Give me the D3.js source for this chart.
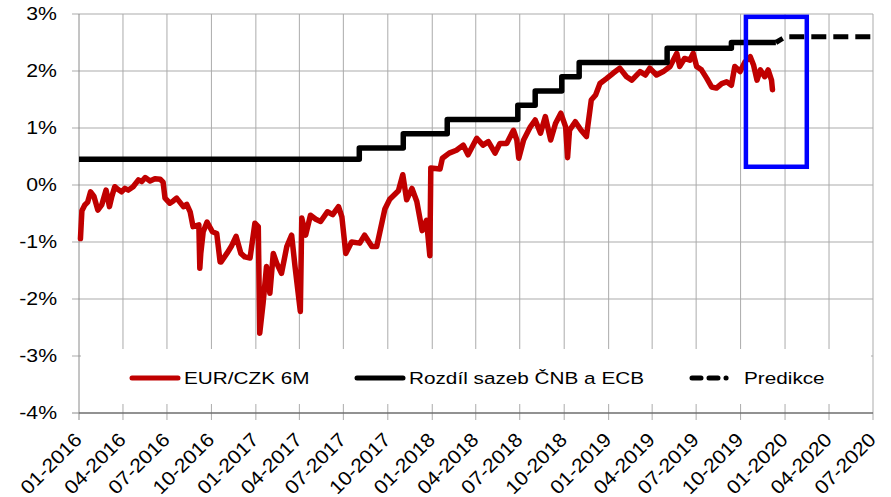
<!DOCTYPE html>
<html>
<head>
<meta charset="utf-8">
<script src="https://cdn.jsdelivr.net/npm/d3@7"></script>
<style>
    body { margin: 0; background: #fff; }
    text { font-family: "Liberation Sans", Arial, sans-serif; fill: #000; }
</style>
</head>
<body>
<div id="vis"></div>
<script>
const Y_TICKS = [-4, -3, -2, -1, 0, 1, 2, 3]

const X_TICKS = [
    '2016-01-01', '2016-04-01', '2016-07-01', '2016-10-01',
    '2017-01-01', '2017-04-01', '2017-07-01', '2017-10-01',
    '2018-01-01', '2018-04-01', '2018-07-01', '2018-10-01',
    '2019-01-01', '2019-04-01', '2019-07-01', '2019-10-01',
    '2020-01-01', '2020-04-01', '2020-07-01'
]

// EUR/CZK 6M (red)
const EURCZK_6M = [
    ['2016-01-04', -0.94], ['2016-01-07', -0.45], ['2016-01-13', -0.35], ['2016-01-19', -0.30],
    ['2016-01-25', -0.12], ['2016-02-01', -0.20], ['2016-02-09', -0.44], ['2016-02-17', -0.35],
    ['2016-02-26', -0.09], ['2016-03-04', -0.38], ['2016-03-09', -0.20], ['2016-03-15', -0.03],
    ['2016-03-22', -0.08], ['2016-03-29', -0.12], ['2016-04-05', -0.06], ['2016-04-12', -0.09],
    ['2016-04-22', -0.03], ['2016-05-03', 0.09], ['2016-05-10', 0.06], ['2016-05-17', 0.13],
    ['2016-05-27', 0.07], ['2016-06-06', 0.11], ['2016-06-17', 0.10], ['2016-06-23', 0.05],
    ['2016-06-27', -0.23], ['2016-07-07', -0.32], ['2016-07-14', -0.28], ['2016-07-21', -0.23],
    ['2016-08-04', -0.38], ['2016-08-11', -0.34], ['2016-08-18', -0.47], ['2016-08-24', -0.73],
    ['2016-09-05', -0.70], ['2016-09-07', -1.46], ['2016-09-09', -1.20], ['2016-09-14', -0.82],
    ['2016-09-22', -0.65], ['2016-10-03', -0.82], ['2016-10-12', -0.85], ['2016-10-19', -1.35],
    ['2016-10-21', -1.35], ['2016-11-02', -1.20], ['2016-11-11', -1.08], ['2016-11-21', -0.90],
    ['2016-12-01', -1.20], ['2016-12-09', -1.26], ['2016-12-20', -1.28], ['2016-12-30', -0.67],
    ['2017-01-06', -0.73], ['2017-01-09', -2.60], ['2017-01-16', -2.07], ['2017-01-23', -1.43],
    ['2017-01-30', -1.90], ['2017-02-06', -1.20], ['2017-02-13', -1.37], ['2017-02-23', -1.55],
    ['2017-03-06', -1.08], ['2017-03-16', -0.88], ['2017-03-23', -1.43], ['2017-04-03', -2.22],
    ['2017-04-06', -0.58], ['2017-04-14', -0.88], ['2017-04-24', -0.53], ['2017-05-05', -0.60],
    ['2017-05-15', -0.64], ['2017-05-29', -0.47], ['2017-06-09', -0.52], ['2017-06-21', -0.38],
    ['2017-06-28', -0.56], ['2017-07-06', -1.20], ['2017-07-18', -1.00], ['2017-08-04', -1.02],
    ['2017-08-14', -0.88], ['2017-08-29', -1.08], ['2017-09-08', -1.08], ['2017-09-25', -0.42],
    ['2017-10-05', -0.25], ['2017-10-23', -0.10], ['2017-11-01', 0.18], ['2017-11-09', -0.26],
    ['2017-11-20', -0.06], ['2017-11-30', -0.29], ['2017-12-11', -0.80], ['2017-12-20', -0.62],
    ['2017-12-27', -1.24], ['2017-12-29', 0.30], ['2018-01-17', 0.28], ['2018-01-22', 0.47],
    ['2018-02-05', 0.56], ['2018-02-20', 0.61], ['2018-03-06', 0.70], ['2018-03-16', 0.53],
    ['2018-04-03', 0.82], ['2018-04-16', 0.70], ['2018-04-27', 0.76], ['2018-05-11', 0.56],
    ['2018-05-21', 0.73], ['2018-06-04', 0.73], ['2018-06-18', 0.96], ['2018-06-25', 0.79],
    ['2018-06-29', 0.47], ['2018-07-09', 0.79], ['2018-07-23', 1.02], ['2018-08-02', 1.14],
    ['2018-08-13', 0.91], ['2018-08-23', 1.20], ['2018-09-03', 0.79], ['2018-09-13', 1.08],
    ['2018-09-24', 1.26], ['2018-10-04', 1.02], ['2018-10-08', 0.48], ['2018-10-12', 0.96],
    ['2018-10-24', 1.11], ['2018-11-05', 0.96], ['2018-11-16', 0.85], ['2018-11-26', 1.49],
    ['2018-12-05', 1.58], ['2018-12-14', 1.78], ['2018-12-28', 1.87], ['2019-01-10', 1.96],
    ['2019-01-24', 2.05], ['2019-02-07', 1.90], ['2019-02-18', 1.84], ['2019-03-07', 1.99],
    ['2019-03-18', 1.93], ['2019-03-27', 2.05], ['2019-04-10', 1.93], ['2019-04-24', 1.99],
    ['2019-05-08', 2.08], ['2019-05-22', 2.31], ['2019-05-28', 2.08], ['2019-06-07', 2.22],
    ['2019-06-18', 2.19], ['2019-06-25', 2.31], ['2019-07-02', 2.08], ['2019-07-12', 2.02],
    ['2019-07-23', 1.87], ['2019-08-02', 1.72], ['2019-08-12', 1.70], ['2019-08-23', 1.78],
    ['2019-09-02', 1.81], ['2019-09-12', 1.75], ['2019-09-19', 2.08], ['2019-09-30', 1.99],
    ['2019-10-10', 2.16], ['2019-10-21', 2.25], ['2019-10-28', 2.10], ['2019-11-04', 1.84],
    ['2019-11-11', 2.02], ['2019-11-20', 1.90], ['2019-11-27', 2.02], ['2019-12-04', 1.84],
    ['2019-12-06', 1.67]
]

// Rozdíl sazeb ČNB a ECB (step line)
const RATE_SPREAD = [
    ['2016-01-01', 0.45], ['2017-08-03', 0.65], ['2017-11-02', 0.90], ['2018-02-01', 1.15],
    ['2018-06-27', 1.40], ['2018-08-02', 1.65], ['2018-09-26', 1.90], ['2018-11-01', 2.15],
    ['2019-05-02', 2.40], ['2019-09-12', 2.50], ['2019-12-13', 2.50]
]

const PREDICTION = [['2019-12-13', 2.50], ['2020-01-02', 2.60], ['2020-07-01', 2.60]]

const HIGHLIGHT = {from: '2019-10-12', to: '2020-02-15', low: 0.32, high: 2.95}

const LEGEND = [
    {name: 'EUR/CZK 6M', color: '#c00000', dash: null, x: 132},
    {name: 'Rozdíl sazeb ČNB a ECB', color: '#000', dash: null, x: 357},
    {name: 'Predikce', color: '#000', dash: '9,8,9,8,0.1,30', x: 692}
]

const parse = d3.timeParse('%Y-%m-%d')
const fmt = d3.timeFormat('%m-%Y')

let svg = d3.select('#vis')
    .append('svg')
    .attr('width', 891)
    .attr('height', 497)

let x = d3.scaleTime()
    .domain([parse('2016-01-01'), parse('2020-07-01')])
    .range([79, 873])

let y = d3.scaleLinear()
    .domain([-4, 3])
    .range([413, 14])

// grid
svg.append('g')
    .selectAll('line')
    .data(Y_TICKS.filter(d => d > -4))
    .enter().append('line')
    .attr('x1', 72).attr('x2', x.range()[1])
    .attr('y1', d => y(d)).attr('y2', d => y(d))
    .attr('stroke', '#ababab')
    .attr('stroke-width', 1)

svg.append('g')
    .selectAll('line')
    .data(X_TICKS.slice(1))
    .enter().append('line')
    .attr('x1', d => x(parse(d))).attr('x2', d => x(parse(d)))
    .attr('y1', y(3)).attr('y2', y(-4) + 7)
    .attr('stroke', '#ababab')
    .attr('stroke-width', 1)

// axes lines
svg.append('line')
    .attr('x1', 79).attr('x2', 79)
    .attr('y1', y(3)).attr('y2', y(-4) + 7)
    .attr('stroke', '#8a8a8a')
svg.append('line')
    .attr('x1', 72).attr('x2', 79)
    .attr('y1', y(-4)).attr('y2', y(-4))
    .attr('stroke', '#8a8a8a')
svg.append('line')
    .attr('x1', 79).attr('x2', x.range()[1])
    .attr('y1', y(-4)).attr('y2', y(-4))
    .attr('stroke', '#6e6e6e')
    .attr('stroke-width', 1.5)

// y labels
svg.append('g')
    .selectAll('text')
    .data(Y_TICKS)
    .enter().append('text')
    .attr('transform', d => `translate(57, ${y(d)}) scale(1.18, 1)`)
    .attr('dy', '0.36em')
    .style('text-anchor', 'end')
    .style('font-size', '18px')
    .text(d => d + '%')

// x labels
svg.append('g')
    .selectAll('text')
    .data(X_TICKS)
    .enter().append('text')
    .attr('transform', d => `translate(${x(parse(d)) + 4}, 441) rotate(-45) scale(1.08, 1)`)
    .style('text-anchor', 'end')
    .style('font-size', '19.5px')
    .text(d => fmt(parse(d)))

// series
let line = d3.line()
    .x(d => x(parse(d[0])))
    .y(d => y(d[1]))

svg.append('path')
    .datum(EURCZK_6M)
    .attr('d', line)
    .attr('fill', 'none')
    .attr('stroke', '#c00000')
    .attr('stroke-width', 5.5)
    .attr('stroke-linejoin', 'round')
    .attr('stroke-linecap', 'round')

svg.append('path')
    .datum(RATE_SPREAD)
    .attr('d', line.curve(d3.curveStepAfter))
    .attr('fill', 'none')
    .attr('stroke', '#000')
    .attr('stroke-width', 5.5)
    .attr('stroke-linejoin', 'round')

svg.append('path')
    .datum(PREDICTION)
    .attr('d', line.curve(d3.curveLinear))
    .attr('fill', 'none')
    .attr('stroke', '#000')
    .attr('stroke-width', 5)
    .attr('stroke-dasharray', '15,7')
    .attr('stroke-dashoffset', 7)

// blue box
svg.append('rect')
    .attr('x', x(parse(HIGHLIGHT.from)))
    .attr('y', y(HIGHLIGHT.high))
    .attr('width', x(parse(HIGHLIGHT.to)) - x(parse(HIGHLIGHT.from)))
    .attr('height', y(HIGHLIGHT.low) - y(HIGHLIGHT.high))
    .attr('fill', 'none')
    .attr('stroke', '#0000ff')
    .attr('stroke-width', 4.5)

// legend
let legend = svg.append('g')
legend.append('rect')
    .attr('x', 81).attr('y', 349)
    .attr('width', 790).attr('height', 55)
    .attr('fill', '#fff')

let items = legend.selectAll('g.item')
    .data(LEGEND)
    .enter().append('g')
    .attr('transform', d => `translate(${d.x}, 378)`)

items.append('line')
    .attr('x1', 0).attr('x2', 46)
    .attr('stroke', d => d.color)
    .attr('stroke-width', 5)
    .attr('stroke-linecap', 'round')
    .attr('stroke-dasharray', d => d.dash)

items.append('text')
    .attr('transform', 'translate(52, 0) scale(1.22, 1)')
    .attr('dy', '0.36em')
    .style('font-size', '17px')
    .text(d => d.name)
</script>
</body>
</html>
